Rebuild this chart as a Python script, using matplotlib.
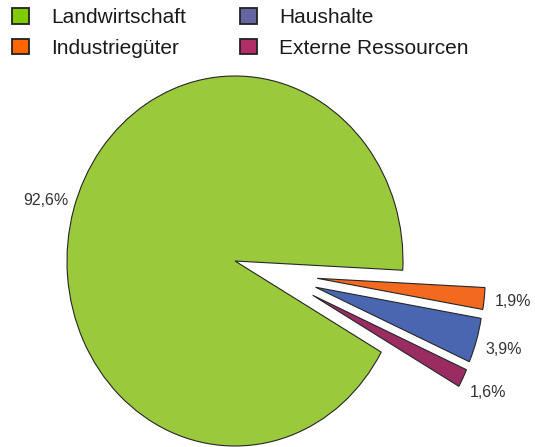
import matplotlib
matplotlib.use('Agg')
import matplotlib.pyplot as plt
from matplotlib.patches import Patch
import numpy as np

# ---- data ----
categories = ['Landwirtschaft', 'Industriegüter', 'Haushalte', 'Externe Ressourcen']
shares = [92.6, 1.9, 3.9, 1.6]
pie_colors = ['#9AC93C', '#F2691F', '#4A66B0', '#9A2C62']
legend_colors = ['#80CC00', '#FF6600', '#6464A0', '#B22E66']

plt.rcParams['font.family'] = ['Liberation Sans', 'DejaVu Sans']

W, H = 535, 447
fig = plt.figure(figsize=(W / 100, H / 100), dpi=100)
ax = fig.add_axes([0, 0, 1, 1])

start = -29.5
explode_small = 0.27
group_shift = 0.23

fmt = lambda p: f'{p:.1f}%'.replace('.', ',')
wp = dict(edgecolor='#262626', linewidth=0.8)
tp = dict(color='#333333', fontsize=11.5)

# main (unexploded) pie: only the big slice is kept visible
w1, _, t1 = ax.pie(shares, colors=pie_colors, startangle=start, counterclock=False,
                   autopct=fmt, pctdistance=1.17, wedgeprops=wp, textprops=tp)

frac = np.array(shares) / sum(shares)
mid = np.deg2rad(start - 360 * (frac[0] + (1 - frac[0]) / 2))
shift = (group_shift * np.cos(mid), group_shift * np.sin(mid))

explode = [0] + [explode_small] * (len(shares) - 1)
w2, _, t2 = ax.pie(shares, colors=pie_colors, startangle=start, counterclock=False,
                   autopct=fmt, pctdistance=1.17, wedgeprops=wp, textprops=tp,
                   explode=explode, center=shift)

for w, t in zip(w1[1:], t1[1:]):
    w.set_visible(False); t.set_visible(False)
w2[0].set_visible(False); t2[0].set_visible(False)

ax.set_aspect('auto')
rx, ry = 168, 185
cx, cy = 235, 261
ax.set_xlim(-cx / rx, (W - cx) / rx)
ax.set_ylim(-(H - cy) / ry, cy / ry)
ax.axis('off')

handles = [Patch(facecolor=c, edgecolor='#222222', linewidth=1.3, label=l)
           for c, l in zip(legend_colors, categories)]
fig.legend(handles=handles, ncol=2, loc='upper left', bbox_to_anchor=(12 / W, 1 - 8 / H),
           frameon=False, fontsize=15, handlelength=0.82, handleheight=0.77,
           handletextpad=1.05, columnspacing=2.6, labelspacing=0.56,
           borderaxespad=0, borderpad=0, labelcolor='#1a1a1a')

fig.savefig('out.png', dpi=100)
